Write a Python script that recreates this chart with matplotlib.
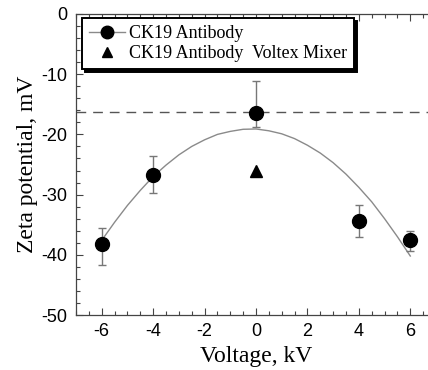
import numpy as np
import matplotlib
matplotlib.use('Agg')
import matplotlib.pyplot as plt
from matplotlib.ticker import MultipleLocator

plt.rcParams['axes.unicode_minus'] = False

# Data
voltage = [-6, -4, 0, 4, 6]
zeta = [-38.2, -26.7, -16.4, -34.4, -37.6]
err_low = [3.5, 3.1, 2.4, 2.7, 1.7]   # distance down to the lower cap
err_high = [2.6, 3.1, 5.2, 2.7, 1.5]  # distance up to the upper cap

vortex_x = [0]
vortex_y = [-26.0]

# fitted curve, sampled by eye along the drawn line
fit_x = [-6, -5.5, -5, -4.5, -4, -3.5, -3, -2.5, -2, -1.5, -1, -0.5, 0,
         0.5, 1, 1.5, 2, 2.5, 3, 3.5, 4, 4.5, 5, 5.5, 6]
fit_y = [-37.6, -34.6, -31.8, -29.3, -27.0, -25.1, -23.4, -22.0, -20.9, -20.0,
         -19.5, -19.15, -19.1, -19.4, -19.9, -20.7, -21.8, -23.1, -24.7, -26.6,
         -28.8, -31.2, -34.0, -37.0, -40.2]

ref_level = -16.3

serif = ['Liberation Serif', 'DejaVu Serif']
sans = ['Liberation Sans', 'DejaVu Sans']

W, H = 428, 370
fig = plt.figure(figsize=(W / 100, H / 100), dpi=100)
# axes runs a bit past the right edge, like the cropped original
left, right, top, bottom = 76, 436, 14, 315
ax = fig.add_axes([left / W, 1 - bottom / H, (right - left) / W, (bottom - top) / H])

curve, = ax.plot(fit_x, fit_y, color='#8a8a8a', lw=1.0, zorder=2)
ax.axhline(ref_level, color='#555555', lw=1.0, dashes=(7, 5), zorder=1)

eb = ax.errorbar(voltage, zeta, yerr=[err_low, err_high], fmt='o', color='black',
                 ms=10, ecolor='#777777', elinewidth=1.0, capsize=3, capthick=1.0,
                 zorder=3)
tri, = ax.plot(vortex_x, vortex_y, '^', color='black', ms=8, ls='none', zorder=3)

ax.set_xlim(-7, 7)
ax.set_ylim(-50, 0)
ax.xaxis.set_major_locator(MultipleLocator(2))
ax.xaxis.set_minor_locator(MultipleLocator(0.5))
ax.yaxis.set_major_locator(MultipleLocator(10))
ax.yaxis.set_minor_locator(MultipleLocator(2))
ax.tick_params(which='both', direction='in', top=True, right=True, color='#444444')
ax.tick_params(which='major', length=5, width=0.8, labelsize=13, pad=6)
ax.tick_params(which='minor', length=3, width=0.8)
for lab in ax.get_xticklabels() + ax.get_yticklabels():
    lab.set_family(sans)
for sp in ax.spines.values():
    sp.set_color('#444444')
    sp.set_linewidth(0.9)

ax.set_xlabel('Voltage, kV', family=serif, fontsize=17, labelpad=4)
ax.set_ylabel('Zeta potential, mV', family=serif, fontsize=17, labelpad=3)

leg = ax.legend([(curve, eb[0]), tri], ['CK19 Antibody', 'CK19 Antibody  Voltex Mixer'],
                loc='upper left', bbox_to_anchor=(82 / W, 1 - 18 / H),
                bbox_transform=fig.transFigure, borderaxespad=0,
                prop={'family': serif, 'size': 13}, fancybox=False,
                shadow={'color': 'black', 'alpha': 1.0}, framealpha=1,
                handlelength=2.0, handletextpad=0.2, labelspacing=0.15,
                borderpad=0.4, markerscale=0.9)
leg.get_frame().set_edgecolor('black')
leg.get_frame().set_linewidth(1.4)

fig.savefig('out.png', dpi=100)
